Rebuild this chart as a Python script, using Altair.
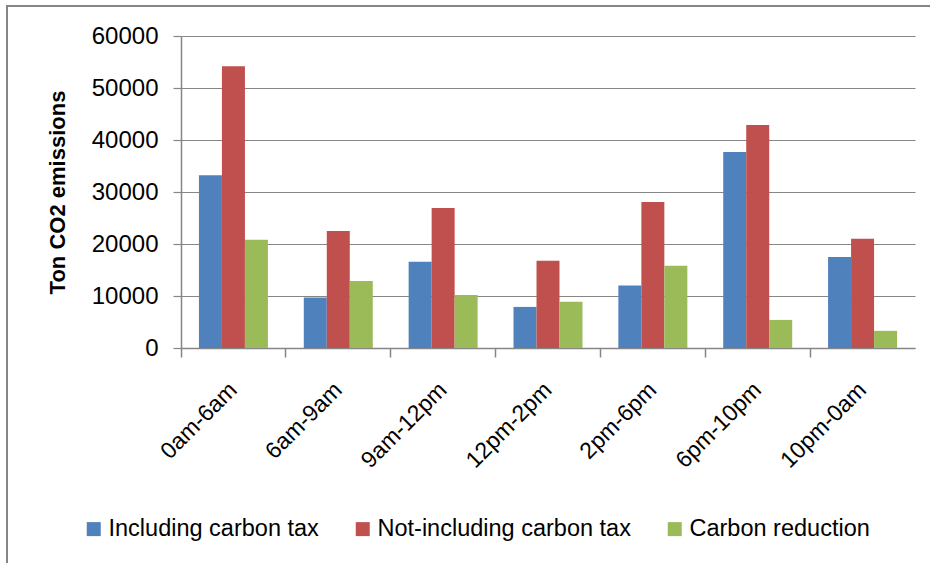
import altair as alt
import pandas as pd

# Time-of-day slots and the three emission series (ton CO2)
slots = ["0am-6am", "6am-9am", "9am-12pm", "12pm-2pm", "2pm-6pm", "6pm-10pm", "10pm-0am"]
series_names = ["Including carbon tax", "Not-including carbon tax", "Carbon reduction"]
including_tax = [33200, 9700, 16600, 7900, 12000, 37700, 17500]
not_including_tax = [54200, 22500, 26900, 16800, 28100, 42900, 21000]
carbon_reduction = [20800, 12900, 10200, 8900, 15800, 5400, 3300]
series_colors = ["#4F81BD", "#C0504D", "#9BBB59"]
y_ticks = [0, 10000, 20000, 30000, 40000, 50000, 60000]

rows = []
for i, slot in enumerate(slots):
    for name, values in zip(series_names, [including_tax, not_including_tax, carbon_reduction]):
        rows.append({"slot": slot, "series": name, "value": values[i]})
df = pd.DataFrame(rows)
one_row = pd.DataFrame({"k": [0]})

W, H = 734, 312
FONT = "Liberation Sans"
GRAY = "#868686"

x_scale = alt.Scale(domain=slots, paddingInner=0, paddingOuter=0)

bars = alt.Chart(df).mark_bar().encode(
    x=alt.X(
        "slot:N",
        sort=slots,
        scale=x_scale,
        axis=alt.Axis(
            title=None,
            # ticks sit on the band boundaries, labels stay centred on the bands
            bandPosition=0,
            labelAngle=-45,
            labelAlign="right",
            labelBaseline="middle",
            labelPadding=29,
            labelFont=FONT,
            labelFontSize=23,
            labelColor="#000000",
            labelOverlap=False,
            labelLimit=300,
            ticks=True,
            tickSize=9,
            tickColor=GRAY,
            tickWidth=1.5,
            grid=False,
            domainColor=GRAY,
            domainWidth=1.5,
        ),
    ),
    xOffset=alt.XOffset(
        "series:N",
        sort=series_names,
        scale=alt.Scale(domain=series_names, paddingInner=0, paddingOuter=0.78),
    ),
    y=alt.Y(
        "value:Q",
        scale=alt.Scale(domain=[0, 60000], nice=False),
        axis=alt.Axis(
            values=y_ticks,
            format="d",
            title="Ton CO2 emissions",
            titleFont=FONT,
            titleFontSize=22,
            titleFontWeight="bold",
            titleColor="#000000",
            titleAngle=-90,
            titleAlign="center",
            titleBaseline="alphabetic",
            titleX=-117,
            titleY=H / 2,
            labelFont=FONT,
            labelFontSize=24,
            labelColor="#000000",
            labelPadding=15,
            labelBaseline="middle",
            tickSize=8,
            tickColor=GRAY,
            tickWidth=1.2,
            domainColor=GRAY,
            domainWidth=1.5,
            gridColor=GRAY,
            gridWidth=1.2,
        ),
    ),
    color=alt.Color(
        "series:N",
        sort=series_names,
        scale=alt.Scale(domain=series_names, range=series_colors),
        legend=alt.Legend(
            title=None,
            orient="none",
            legendX=-99,
            legendY=481,
            direction="horizontal",
            symbolType="square",
            symbolSize=196,
            symbolStrokeWidth=0,
            labelFont=FONT,
            labelFontSize=23.5,
            labelColor="#000000",
            labelOffset=3,
            labelLimit=400,
            columnPadding=32,
            padding=0,
        ),
    ),
)

# Chart frame (left and top edges)
frame_left = alt.Chart(one_row).mark_rule(color=GRAY, strokeWidth=2).encode(
    x=alt.value(-174), y=alt.value(-30), y2=alt.value(H + 230)
)
frame_top = alt.Chart(one_row).mark_rule(color=GRAY, strokeWidth=2).encode(
    x=alt.value(-175), x2=alt.value(W + 20), y=alt.value(-30)
)

chart = (
    alt.layer(frame_left, frame_top, bars)
    .properties(
        width=W,
        height=H,
        padding={"left": 181, "top": 36, "right": 15, "bottom": 215},
        autosize=alt.AutoSizeParams(type="none"),
        background="white",
    )
    .configure_view(stroke=None)
)

chart.save("out.html", embed_options={"renderer": "svg", "actions": False})
